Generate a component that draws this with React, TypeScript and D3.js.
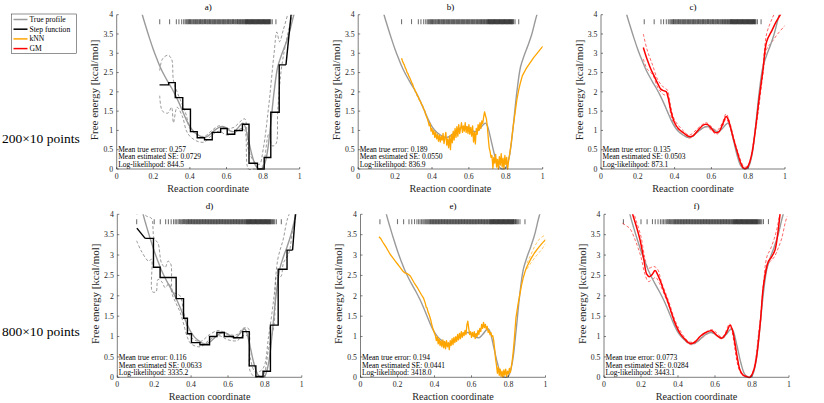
import React from 'react';
import * as d3 from 'd3';

type Pt = [number, number];

// ---------- DATA ----------
const trueProfile: Pt[] = [
  [0.10, 4.8], [0.12, 4.4], [0.14, 4.0], [0.16, 3.68], [0.18, 3.38], [0.20, 3.1], [0.22, 2.85], [0.24, 2.62],
  [0.26, 2.43], [0.28, 2.26], [0.30, 2.1], [0.32, 1.92], [0.34, 1.72], [0.36, 1.5], [0.38, 1.28],
  [0.40, 1.1], [0.42, 0.98], [0.44, 0.9], [0.46, 0.84], [0.48, 0.82], [0.50, 0.86], [0.52, 0.94],
  [0.54, 1.02], [0.56, 1.08], [0.58, 1.1], [0.60, 1.06], [0.62, 0.99], [0.64, 0.97], [0.66, 1.05],
  [0.68, 1.16], [0.69, 1.19], [0.70, 1.12], [0.72, 0.75], [0.74, 0.35], [0.76, 0.08], [0.78, 0.0],
  [0.80, 0.04], [0.82, 0.35], [0.84, 1.1], [0.86, 2.0], [0.88, 2.65], [0.90, 2.95], [0.92, 3.2],
  [0.94, 3.48], [0.96, 3.85], [0.98, 4.2], [1.0, 4.6],
];

// Step function, 200x10 points (panel a)
const stepEdgesA = [0.234, 0.284, 0.320, 0.361, 0.403, 0.440, 0.480, 0.522, 0.568, 0.604, 0.645, 0.687, 0.723, 0.769, 0.806, 0.842, 0.888, 0.925];
const stepValuesA = [2.18, 2.24, 1.85, 1.55, 0.97, 0.81, 0.76, 0.95, 1.05, 0.90, 1.0, 1.16, 0.15, 0.0, 0.30, 1.47, 2.70];
const stepTailA: Pt[] = [[0.925, 2.70], [0.955, 4.1]];
const stepUpperA: Pt[] = [
  [0.235, 2.55], [0.25, 2.85], [0.28, 2.95], [0.30, 2.85], [0.31, 2.3], [0.33, 2.0], [0.36, 1.65], [0.38, 1.4],
  [0.40, 1.05], [0.44, 0.88], [0.48, 0.85], [0.52, 1.0], [0.56, 1.12], [0.60, 1.05], [0.64, 1.08], [0.68, 1.25],
  [0.70, 1.3], [0.72, 0.5], [0.75, 0.2], [0.78, 0.12], [0.80, 0.5], [0.83, 1.6], [0.86, 3.0], [0.875, 3.55],
  [0.89, 3.3], [0.91, 3.6], [0.94, 4.1],
];
const stepLowerA: Pt[] = [
  [0.235, 1.9], [0.25, 1.5], [0.28, 1.45], [0.30, 1.6], [0.31, 1.2], [0.33, 1.6], [0.36, 1.35], [0.38, 1.0],
  [0.40, 0.85], [0.44, 0.72], [0.48, 0.7], [0.52, 0.88], [0.56, 0.98], [0.60, 0.88], [0.64, 0.92], [0.68, 1.05],
  [0.70, 1.0], [0.72, 0.0], [0.75, 0.0], [0.78, 0.0], [0.80, 0.1], [0.83, 0.9], [0.85, 0.6], [0.87, 0.65],
  [0.88, 1.5], [0.90, 2.6], [0.93, 3.4], [0.96, 4.0],
];

// Step function, 800x10 points (panel d)
const stepLeadD: Pt[] = [[0.106, 3.66], [0.151, 3.41]];
const stepEdgesD = [0.151, 0.196, 0.232, 0.319, 0.359, 0.380, 0.402, 0.448, 0.500, 0.540, 0.580, 0.630, 0.680, 0.715, 0.751, 0.790, 0.830, 0.872, 0.920, 0.950];
const stepValuesD = [3.41, 2.70, 2.45, 1.93, 1.45, 1.07, 0.85, 0.80, 1.00, 1.10, 1.00, 0.97, 1.12, 0.28, 0.02, 0.15, 1.28, 2.65, 3.12];
const stepTailD: Pt[] = [[0.950, 3.12], [0.967, 4.1]];
const stepUpperD: Pt[] = [
  [0.105, 4.0], [0.13, 4.05], [0.16, 3.95], [0.185, 3.9], [0.2, 3.4], [0.22, 3.3], [0.24, 2.8], [0.26, 2.7],
  [0.275, 2.85], [0.29, 2.78], [0.30, 2.1], [0.32, 2.05], [0.34, 2.0], [0.36, 1.6], [0.38, 1.2], [0.40, 0.98],
  [0.45, 0.88], [0.5, 1.05], [0.55, 1.15], [0.6, 1.05], [0.65, 1.05], [0.68, 1.2], [0.71, 1.2], [0.72, 0.5],
  [0.75, 0.12], [0.79, 0.22], [0.82, 1.0], [0.85, 2.0], [0.87, 2.9], [0.9, 3.4], [0.92, 3.85], [0.94, 4.1],
];
const stepLowerD: Pt[] = [
  [0.105, 3.35], [0.13, 3.1], [0.17, 2.85], [0.185, 2.9], [0.19, 2.1], [0.21, 2.1], [0.22, 2.4], [0.24, 2.35],
  [0.26, 2.2], [0.28, 2.3], [0.30, 2.0], [0.32, 1.8], [0.34, 1.6], [0.36, 1.3], [0.38, 0.98], [0.40, 0.82],
  [0.45, 0.75], [0.5, 0.92], [0.55, 1.02], [0.6, 0.92], [0.65, 0.9], [0.68, 1.02], [0.71, 1.0], [0.72, 0.15],
  [0.75, 0.0], [0.79, 0.05], [0.82, 0.7], [0.85, 1.3], [0.865, 2.5], [0.88, 2.45], [0.89, 2.5], [0.9, 2.8],
  [0.93, 3.05], [0.95, 3.6], [0.97, 4.0],
];

// kNN estimate, 200x10 points (panel b)
const knnB: Pt[] = [
  [0.235, 2.87], [0.24, 2.8], [0.245, 2.74], [0.25, 2.7], [0.255, 2.62], [0.26, 2.58], [0.265, 2.5], [0.27, 2.47],
  [0.275, 2.4], [0.28, 2.36], [0.285, 2.3], [0.29, 2.24], [0.295, 2.2], [0.30, 2.12], [0.305, 2.08], [0.31, 2.0],
  [0.315, 1.98], [0.32, 1.9], [0.325, 1.88], [0.33, 1.8], [0.335, 1.77], [0.34, 1.72], [0.345, 1.66], [0.35, 1.63],
  [0.355, 1.55], [0.36, 1.52], [0.365, 1.42], [0.37, 1.36], [0.375, 1.3], [0.38, 1.22], [0.385, 1.12], [0.39, 1.18],
  [0.395, 0.98], [0.40, 1.05], [0.405, 0.9], [0.41, 1.0], [0.415, 0.82], [0.42, 0.95], [0.425, 0.78], [0.43, 0.9],
  [0.435, 0.72], [0.44, 0.88], [0.445, 0.7], [0.45, 0.85], [0.455, 0.75], [0.46, 0.92], [0.465, 0.66], [0.47, 0.8],
  [0.475, 0.95], [0.48, 0.62], [0.485, 0.78], [0.49, 0.55], [0.495, 0.85], [0.50, 0.5], [0.505, 0.9], [0.51, 0.68],
  [0.515, 0.98], [0.52, 0.75], [0.525, 1.05], [0.53, 0.82], [0.535, 1.1], [0.54, 0.85], [0.545, 1.15], [0.55, 0.92],
  [0.555, 1.05], [0.56, 1.2], [0.565, 0.95], [0.57, 1.12], [0.575, 0.98], [0.58, 1.2], [0.585, 0.95], [0.59, 1.1],
  [0.595, 0.92], [0.60, 1.15], [0.605, 0.9], [0.61, 1.08], [0.615, 0.85], [0.62, 1.12], [0.625, 0.7], [0.63, 0.95],
  [0.635, 0.65], [0.64, 1.05], [0.645, 0.9], [0.65, 1.15], [0.655, 1.0], [0.66, 1.2], [0.665, 1.05], [0.67, 1.25],
  [0.675, 1.18], [0.68, 1.35], [0.685, 1.48], [0.69, 1.38], [0.695, 1.3], [0.70, 1.1], [0.705, 0.8], [0.71, 0.55],
  [0.715, 0.45], [0.72, 0.3], [0.725, 0.35], [0.73, 0.02], [0.735, 0.3], [0.74, 0.15], [0.745, 0.38], [0.75, 0.05],
  [0.755, 0.25], [0.76, 0.0], [0.765, 0.32], [0.77, 0.1], [0.775, 0.4], [0.78, 0.05], [0.785, 0.28], [0.79, 0.0],
  [0.795, 0.35], [0.80, 0.12], [0.805, 0.3], [0.81, 0.0], [0.815, 0.2], [0.82, 0.35], [0.83, 0.7], [0.84, 1.1],
  [0.85, 1.45], [0.86, 1.8], [0.87, 2.05], [0.88, 2.25], [0.89, 2.42], [0.91, 2.6], [0.95, 2.88], [1.0, 3.18],
];

// kNN estimate, 800x10 points (panel e)
const knnE: Pt[] = [
  [0.10, 3.45], [0.11, 3.4], [0.12, 3.32], [0.13, 3.25], [0.14, 3.18], [0.15, 3.1], [0.16, 3.02], [0.17, 2.96],
  [0.18, 2.9], [0.19, 2.84], [0.20, 2.78], [0.21, 2.72], [0.22, 2.66], [0.23, 2.6], [0.24, 2.56], [0.25, 2.55],
  [0.26, 2.52], [0.27, 2.48], [0.28, 2.4], [0.29, 2.32], [0.30, 2.25], [0.31, 2.18], [0.32, 2.1], [0.33, 2.02],
  [0.34, 1.95], [0.35, 1.82], [0.355, 1.72], [0.36, 1.7], [0.365, 1.6], [0.37, 1.55], [0.375, 1.48], [0.38, 1.4],
  [0.385, 1.3], [0.39, 1.22], [0.395, 1.15], [0.40, 1.08], [0.405, 1.02], [0.41, 0.9], [0.415, 1.0], [0.42, 0.82],
  [0.425, 0.95], [0.43, 0.78], [0.435, 0.9], [0.44, 0.75], [0.445, 0.92], [0.45, 0.72], [0.455, 0.88], [0.46, 0.7],
  [0.465, 0.9], [0.47, 0.75], [0.475, 0.85], [0.48, 0.68], [0.485, 0.9], [0.49, 0.78], [0.495, 0.95], [0.50, 0.8],
  [0.505, 0.98], [0.51, 0.85], [0.515, 1.0], [0.52, 0.88], [0.525, 1.05], [0.53, 0.92], [0.535, 1.08], [0.54, 0.95],
  [0.545, 1.12], [0.55, 0.98], [0.555, 1.1], [0.56, 1.02], [0.565, 1.15], [0.57, 1.05], [0.575, 1.28], [0.58, 1.38],
  [0.585, 1.2], [0.59, 1.05], [0.595, 1.12], [0.60, 0.98], [0.605, 1.1], [0.61, 1.0], [0.615, 1.12], [0.62, 0.95],
  [0.625, 1.08], [0.63, 1.0], [0.635, 1.15], [0.64, 1.05], [0.645, 1.2], [0.65, 1.12], [0.655, 1.3], [0.66, 1.2],
  [0.665, 1.35], [0.67, 1.22], [0.675, 1.3], [0.68, 1.18], [0.685, 1.25], [0.69, 1.1], [0.695, 1.15], [0.70, 1.05],
  [0.705, 1.1], [0.71, 1.0], [0.715, 1.02], [0.72, 0.9], [0.725, 0.7], [0.73, 0.45], [0.735, 0.3], [0.74, 0.1],
  [0.745, 0.25], [0.75, 0.05], [0.755, 0.2], [0.76, 0.02], [0.765, 0.15], [0.77, 0.0], [0.775, 0.18], [0.78, 0.05],
  [0.785, 0.2], [0.79, 0.02], [0.795, 0.15], [0.80, 0.08], [0.805, 0.22], [0.81, 0.12], [0.815, 0.25], [0.82, 0.4],
  [0.825, 0.6], [0.83, 0.85], [0.835, 1.15], [0.84, 1.45], [0.845, 1.6], [0.85, 1.75], [0.86, 2.0], [0.87, 2.25],
  [0.88, 2.45], [0.89, 2.6], [0.90, 2.72], [0.92, 2.9], [0.94, 3.05], [0.96, 3.17], [0.98, 3.28], [1.0, 3.38],
];
const knnUpperE: Pt[] = [[0.9, 2.8], [0.92, 3.0], [0.94, 3.2], [0.96, 3.36], [0.98, 3.44], [1.0, 3.5]];
const knnLowerE: Pt[] = [[0.9, 2.66], [0.92, 2.8], [0.95, 2.98], [0.98, 3.14], [1.0, 3.28]];

// Gaussian-mixture estimate, 200x10 points (panel c)
const gmC: Pt[] = [
  [0.23, 3.15], [0.25, 2.85], [0.27, 2.6], [0.29, 2.4], [0.31, 2.2], [0.325, 2.07], [0.34, 2.03], [0.355, 2.0],
  [0.365, 1.85], [0.38, 1.5], [0.40, 1.2], [0.42, 1.05], [0.45, 0.93], [0.48, 0.84], [0.50, 0.86], [0.53, 1.02],
  [0.56, 1.15], [0.58, 1.15], [0.60, 1.05], [0.62, 0.95], [0.64, 0.96], [0.66, 1.15], [0.68, 1.36], [0.69, 1.3],
  [0.70, 1.15], [0.72, 0.78], [0.74, 0.45], [0.76, 0.15], [0.775, 0.02], [0.79, 0.02], [0.80, 0.08], [0.82, 0.4],
  [0.84, 1.05], [0.86, 1.85], [0.88, 2.55], [0.90, 3.3], [0.93, 3.6], [0.95, 3.8], [0.975, 4.0], [0.99, 4.15],
];
const gmUpperC: Pt[] = [
  [0.23, 3.5], [0.25, 3.1], [0.28, 2.7], [0.31, 2.3], [0.34, 2.12], [0.36, 2.05], [0.38, 1.6], [0.40, 1.27],
  [0.45, 0.98], [0.48, 0.88], [0.53, 1.07], [0.57, 1.2], [0.60, 1.1], [0.63, 1.0], [0.66, 1.2], [0.68, 1.43],
  [0.70, 1.2], [0.74, 0.5], [0.78, 0.05], [0.80, 0.1], [0.84, 1.1], [0.88, 2.65], [0.90, 3.5], [0.93, 3.9], [0.95, 4.1],
];
const gmLowerC: Pt[] = [
  [0.23, 2.85], [0.25, 2.6], [0.28, 2.45], [0.31, 2.1], [0.34, 1.93], [0.36, 1.9], [0.38, 1.4], [0.40, 1.13],
  [0.45, 0.88], [0.48, 0.8], [0.53, 0.97], [0.57, 1.1], [0.60, 1.0], [0.63, 0.9], [0.66, 1.1], [0.68, 1.3],
  [0.70, 1.1], [0.74, 0.4], [0.78, 0.0], [0.80, 0.05], [0.84, 1.0], [0.88, 2.45], [0.90, 3.1], [0.93, 3.3],
  [0.96, 3.5], [1.0, 3.72],
];

// Gaussian-mixture estimate, 800x10 points (panel f)
const gmF: Pt[] = [
  [0.145, 4.2], [0.155, 4.0], [0.175, 3.7], [0.195, 3.37], [0.215, 2.9], [0.231, 2.53], [0.245, 2.47], [0.26, 2.52],
  [0.276, 2.62], [0.29, 2.52], [0.303, 2.38], [0.325, 2.1], [0.348, 1.82], [0.365, 1.58], [0.384, 1.33],
  [0.411, 1.08], [0.44, 0.92], [0.465, 0.83], [0.49, 0.86], [0.519, 1.0], [0.55, 1.1], [0.582, 1.14],
  [0.61, 1.03], [0.636, 0.96], [0.66, 1.08], [0.681, 1.28], [0.695, 1.15], [0.708, 0.83], [0.72, 0.5],
  [0.735, 0.18], [0.75, 0.06], [0.77, 0.02], [0.789, 0.0], [0.81, 0.18], [0.825, 0.51], [0.845, 1.35],
  [0.861, 2.22], [0.875, 2.6], [0.888, 2.84], [0.905, 2.95], [0.924, 3.12], [0.94, 3.55], [0.951, 3.98], [0.96, 4.3],
];
const gmUpperF: Pt[] = [
  [0.15, 4.2], [0.17, 3.9], [0.2, 3.45], [0.22, 2.95], [0.24, 2.68], [0.27, 2.72], [0.29, 2.65], [0.31, 2.35],
  [0.35, 1.86], [0.40, 1.24], [0.47, 0.86], [0.58, 1.17], [0.64, 0.99], [0.68, 1.31], [0.74, 0.14], [0.79, 0.03],
  [0.84, 1.25], [0.86, 2.2], [0.88, 2.95], [0.90, 3.15], [0.92, 3.4], [0.935, 3.65], [0.95, 4.0], [0.96, 4.2],
];
const gmLowerF: Pt[] = [
  [0.10, 3.78], [0.12, 3.72], [0.14, 3.65], [0.17, 3.35], [0.20, 2.95], [0.22, 2.55], [0.24, 2.35], [0.26, 2.4],
  [0.28, 2.45], [0.30, 2.3], [0.35, 1.76], [0.40, 1.14], [0.47, 0.8], [0.58, 1.1], [0.64, 0.94], [0.68, 1.24],
  [0.74, 0.1], [0.79, 0.0], [0.84, 1.15], [0.86, 2.1], [0.88, 2.75], [0.90, 2.85], [0.92, 2.95], [0.94, 3.15],
  [0.96, 3.4], [0.98, 3.8], [0.99, 3.95],
];

// Rug of sample positions (reaction coordinate)
const rugTop = [
  0.235, 0.289, 0.326, 0.34, 0.355, 0.366, 0.374, 0.38, 0.385, 0.39, 0.394, 0.398, 0.403, 0.407, 0.412,
  0.417, 0.421, 0.426, 0.431, 0.435, 0.44, 0.444, 0.449, 0.453, 0.458, 0.462, 0.467, 0.471, 0.476, 0.48, 0.485,
  0.489, 0.494, 0.498, 0.503, 0.507, 0.512, 0.516, 0.521, 0.525, 0.53, 0.534, 0.539, 0.543, 0.548, 0.552, 0.557,
  0.561, 0.566, 0.57, 0.575, 0.579, 0.584, 0.588, 0.593, 0.597, 0.602, 0.606, 0.611, 0.615, 0.62, 0.624, 0.629,
  0.633, 0.638, 0.642, 0.647, 0.651, 0.656, 0.66, 0.664, 0.668, 0.672, 0.676, 0.68, 0.684, 0.688, 0.692, 0.696,
  0.7, 0.703, 0.706, 0.709, 0.712, 0.715, 0.718, 0.721, 0.724, 0.727, 0.73, 0.733, 0.736, 0.739, 0.742, 0.745,
  0.748, 0.751, 0.754, 0.757, 0.76, 0.763, 0.766, 0.769, 0.772, 0.775, 0.778, 0.781, 0.784, 0.787, 0.79, 0.793,
  0.796, 0.799, 0.802, 0.805, 0.808, 0.811, 0.814, 0.817, 0.82, 0.823, 0.826, 0.829, 0.832, 0.835, 0.838, 0.842,
  0.85, 0.87,
];
const rugBottom = [
  0.105, 0.2, 0.233, 0.262, 0.277, 0.292, 0.305, 0.314, 0.322, 0.33, 0.337, 0.343, 0.349, 0.354, 0.359, 0.364,
  0.369, 0.374, 0.378, 0.382, 0.386, 0.39, 0.394, 0.398, 0.402, 0.406, 0.41, 0.414, 0.418, 0.422, 0.426, 0.43,
  0.434, 0.438, 0.442, 0.446, 0.45, 0.454, 0.458, 0.462, 0.466, 0.47, 0.474, 0.478, 0.482, 0.486, 0.49, 0.494,
  0.498, 0.502, 0.506, 0.51, 0.514, 0.518, 0.522, 0.526, 0.53, 0.534, 0.538, 0.542, 0.546, 0.55, 0.554, 0.558,
  0.562, 0.566, 0.57, 0.574, 0.578, 0.582, 0.586, 0.59, 0.594, 0.598, 0.602, 0.606, 0.61, 0.614, 0.618, 0.622,
  0.626, 0.63, 0.634, 0.638, 0.642, 0.646, 0.65, 0.654, 0.658, 0.662, 0.666, 0.67, 0.674, 0.678, 0.682, 0.686,
  0.69, 0.694, 0.698, 0.701, 0.704, 0.707, 0.71, 0.713, 0.716, 0.719, 0.722, 0.725, 0.728, 0.731, 0.734, 0.737,
  0.74, 0.743, 0.746, 0.749, 0.752, 0.755, 0.758, 0.761, 0.764, 0.767, 0.77, 0.773, 0.776, 0.779, 0.782, 0.785,
  0.788, 0.791, 0.794, 0.797, 0.8, 0.803, 0.806, 0.809, 0.812, 0.815, 0.818, 0.821, 0.824, 0.827, 0.83, 0.834,
  0.838, 0.842, 0.847, 0.853, 0.862, 0.889,
];

const statsA = ['Mean true error: 0.257', 'Mean estimated SE: 0.0729', 'Log-likelihood: 844.5'];
const statsB = ['Mean true error: 0.189', 'Mean estimated SE: 0.0550', 'Log-likelihood: 836.9'];
const statsC = ['Mean true error: 0.135', 'Mean estimated SE: 0.0503', 'Log-likelihood: 873.1'];
const statsD = ['Mean true error: 0.116', 'Mean estimated SE: 0.0633', 'Log-likelihood: 3335.2'];
const statsE = ['Mean true error: 0.194', 'Mean estimated SE: 0.0441', 'Log-likelihood: 3418.0'];
const statsF = ['Mean true error: 0.0773', 'Mean estimated SE: 0.0284', 'Log-likelihood: 3443.1'];

const xTicks = [0, 0.2, 0.4, 0.6, 0.8, 1];
const yTicks = [0, 0.5, 1, 1.5, 2, 2.5, 3, 3.5, 4];
const legendItems = ['True profile', 'Step function', 'kNN', 'GM'];
const rowLabels = ['200×10 points', '800×10 points'];
const titles = ['a)', 'b)', 'c)', 'd)', 'e)', 'f)'];

// ---------- STYLE ----------
const FONT = 'Liberation Serif, DejaVu Serif, serif';
const AXIS = '#262626';
const GRAY = '#9a9a9a';
const ORANGE = '#ffa500';
const RED = '#ff0000';
const legendColors = [GRAY, '#000000', ORANGE, RED];

interface StepSpec { edges: number[]; values: number[]; lead?: Pt[]; tail?: Pt[]; upper: Pt[]; lower: Pt[] }
interface EstSpec { line: Pt[]; upper?: Pt[]; lower?: Pt[]; color: string; smooth: boolean }
interface PanelSpec {
  id: string; title: string; x0: number; w: number; yTop: number; yBot: number;
  rug: number[]; stats: string[]; step?: StepSpec; est?: EstSpec;
}

const panels: PanelSpec[] = [
  { id: 'a', title: titles[0], x0: 116.7, w: 183, yTop: 14.7, yBot: 169, rug: rugTop, stats: statsA,
    step: { edges: stepEdgesA, values: stepValuesA, tail: stepTailA, upper: stepUpperA, lower: stepLowerA } },
  { id: 'b', title: titles[1], x0: 358.2, w: 184.5, yTop: 14.7, yBot: 169, rug: rugTop, stats: statsB,
    est: { line: knnB, color: ORANGE, smooth: false } },
  { id: 'c', title: titles[2], x0: 601, w: 184, yTop: 14.7, yBot: 169, rug: rugTop, stats: statsC,
    est: { line: gmC, upper: gmUpperC, lower: gmLowerC, color: RED, smooth: true } },
  { id: 'd', title: titles[3], x0: 117.3, w: 184.5, yTop: 214.3, yBot: 377.3, rug: rugBottom, stats: statsD,
    step: { edges: stepEdgesD, values: stepValuesD, lead: stepLeadD, tail: stepTailD, upper: stepUpperD, lower: stepLowerD } },
  { id: 'e', title: titles[4], x0: 360.5, w: 185, yTop: 214.3, yBot: 377.3, rug: rugBottom, stats: statsE,
    est: { line: knnE, upper: knnUpperE, lower: knnLowerE, color: ORANGE, smooth: false } },
  { id: 'f', title: titles[5], x0: 604, w: 185, yTop: 214.3, yBot: 377.3, rug: rugBottom, stats: statsF,
    est: { line: gmF, upper: gmUpperF, lower: gmLowerF, color: RED, smooth: true } },
];

const txt = (size: number, color = AXIS): React.CSSProperties => ({ fontFamily: FONT, fontSize: `${size}px`, fill: color });

function Panel({ p }: { p: PanelSpec }) {
  const x = d3.scaleLinear().domain([0, 1]).range([p.x0, p.x0 + p.w]);
  const y = d3.scaleLinear().domain([0, 4]).range([p.yBot, p.yTop]);
  const lin = d3.line<Pt>().x(d => x(d[0])).y(d => y(d[1]));
  const smooth = d3.line<Pt>().x(d => x(d[0])).y(d => y(d[1])).curve(d3.curveCatmullRom.alpha(0.5));
  const stepLine = d3.line<Pt>().x(d => x(d[0])).y(d => y(d[1])).curve(d3.curveStepAfter);
  const clipId = `clip-${p.id}`;
  const cx = (p.x0 + p.x0 + p.w) / 2;
  const rugY = y(3.82);

  let stepPts: Pt[] = [];
  if (p.step) {
    const s = p.step;
    stepPts = s.values.map((v, i) => [s.edges[i], v] as Pt);
    stepPts.push([s.edges[s.edges.length - 1], s.values[s.values.length - 1]]);
  }

  return (
    <g>
      <defs>
        <clipPath id={clipId}>
          <rect x={p.x0} y={p.yTop} width={p.w} height={p.yBot - p.yTop + 1.5} />
        </clipPath>
      </defs>
      {/* rug */}
      <g>
        {p.rug.map((r, i) => (
          <line key={i} x1={x(r)} x2={x(r)} y1={rugY - 2.5} y2={rugY + 2.5} stroke="#000" strokeOpacity={0.55} strokeWidth={1.1} />
        ))}
      </g>
      <g clipPath={`url(#${clipId})`}>
        {p.step && (
          <g>
            <path d={smooth(p.step.upper) || ''} fill="none" stroke="#555" strokeWidth={0.6} strokeDasharray="3,2" />
            <path d={smooth(p.step.lower) || ''} fill="none" stroke="#555" strokeWidth={0.6} strokeDasharray="3,2" />
          </g>
        )}
        {p.est && p.est.upper && (
          <path d={(p.est.smooth ? smooth : lin)(p.est.upper) || ''} fill="none" stroke={p.est.color} strokeWidth={0.6} strokeDasharray="3,2" />
        )}
        {p.est && p.est.lower && (
          <path d={(p.est.smooth ? smooth : lin)(p.est.lower) || ''} fill="none" stroke={p.est.color} strokeWidth={0.6} strokeDasharray="3,2" />
        )}
        <path d={smooth(trueProfile) || ''} fill="none" stroke={GRAY} strokeWidth={1.4} />
        {p.step && (
          <g>
            {p.step.lead && <path d={lin(p.step.lead) || ''} fill="none" stroke="#000" strokeWidth={1.4} />}
            <path d={stepLine(stepPts) || ''} fill="none" stroke="#000" strokeWidth={1.4} />
            {p.step.tail && <path d={lin(p.step.tail) || ''} fill="none" stroke="#000" strokeWidth={1.4} />}
          </g>
        )}
        {p.est && (
          <path d={(p.est.smooth ? smooth : lin)(p.est.line) || ''} fill="none" stroke={p.est.color}
            strokeWidth={p.est.smooth ? 1.5 : 1.3} strokeLinejoin="round" />
        )}
      </g>
      {/* axes */}
      <line x1={p.x0} x2={p.x0 + p.w} y1={p.yBot} y2={p.yBot} stroke={AXIS} strokeWidth={0.6} />
      <line x1={p.x0} x2={p.x0} y1={p.yTop} y2={p.yBot} stroke={AXIS} strokeWidth={0.6} />
      {xTicks.map(t => (
        <g key={`x${t}`}>
          <line x1={x(t)} x2={x(t)} y1={p.yBot} y2={p.yBot - 2} stroke={AXIS} strokeWidth={0.6} />
          <text x={x(t)} y={p.yBot + 10} textAnchor="middle" style={txt(7.8)}>{String(t)}</text>
        </g>
      ))}
      {yTicks.map(t => (
        <g key={`y${t}`}>
          <line x1={p.x0} x2={p.x0 + 2} y1={y(t)} y2={y(t)} stroke={AXIS} strokeWidth={0.6} />
          <text x={p.x0 - 3.5} y={y(t) + 2.7} textAnchor="end" style={txt(7.8)}>{String(t)}</text>
        </g>
      ))}
      <text x={cx} y={p.yBot + 23} textAnchor="middle" style={txt(10.2)}>Reaction coordinate</text>
      <text transform={`translate(${p.x0 - 18.5}, ${(p.yTop + p.yBot) / 2 - 2}) rotate(-90)`} textAnchor="middle"
        style={txt(11)}>Free energy [kcal/mol]</text>
      <text x={cx} y={p.yTop - 5} textAnchor="middle" style={txt(9, '#000')}>{p.title}</text>
      {p.stats.map((s, i) => (
        <text key={i} x={p.x0 + 1.5} y={p.yBot - 17.5 + i * 7.7} style={txt(7.5, '#000')}>{s}</text>
      ))}
    </g>
  );
}

export default function App() {
  return (
    <svg width={824} height={403} style={{ position: 'absolute', left: 0, top: 0, background: '#fff' }}>
      <rect x={0} y={0} width={824} height={403} fill="#fff" />
      {panels.map(p => <Panel key={p.id} p={p} />)}
      {/* legend */}
      <g>
        <rect x={11.7} y={14} width={65} height={39.3} fill="#fff" stroke="#262626" strokeWidth={0.5} />
        {legendItems.map((l, i) => (
          <g key={l}>
            <line x1={13.5} x2={27.5} y1={19.5 + i * 9.7} y2={19.5 + i * 9.7} stroke={legendColors[i]} strokeWidth={1.5} />
            <text x={29.5} y={22 + i * 9.7} style={txt(7.6, '#000')}>{l}</text>
          </g>
        ))}
      </g>
      <text x={2} y={142.5} style={txt(13.5, '#000')}>{rowLabels[0]}</text>
      <text x={2} y={335.5} style={txt(13.5, '#000')}>{rowLabels[1]}</text>
    </svg>
  );
}
